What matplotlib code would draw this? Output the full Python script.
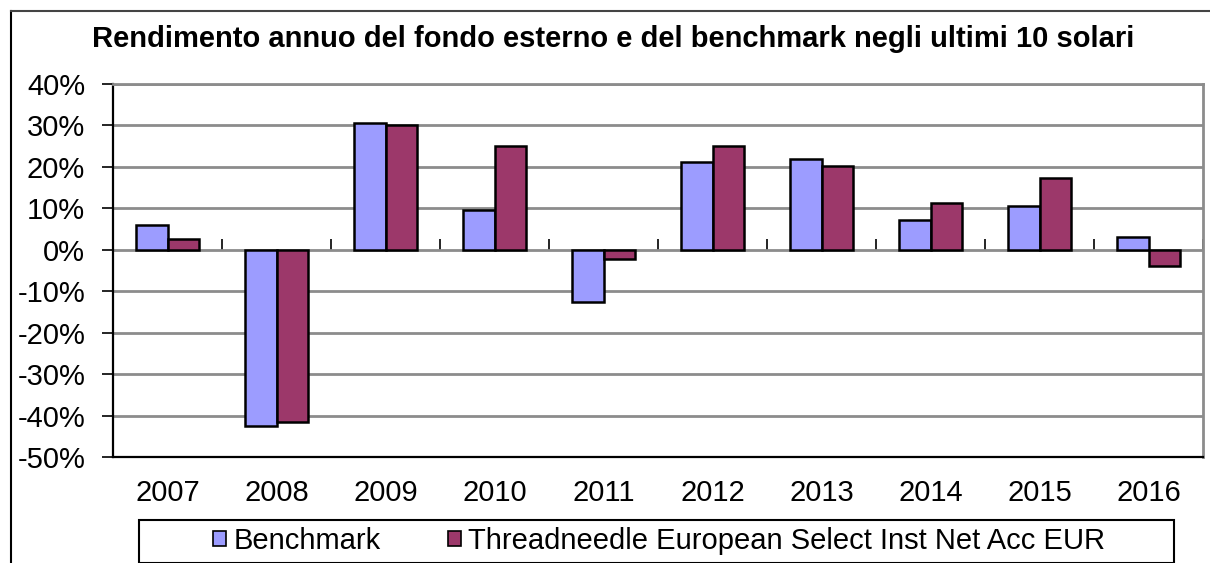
import matplotlib
matplotlib.use("Agg")
import matplotlib.pyplot as plt
from matplotlib.lines import Line2D
from matplotlib.patches import Rectangle, Patch
import numpy as np

plt.rcParams['font.family'] = ['Liberation Sans', 'DejaVu Sans']

# annual returns, percent
years = ["2007", "2008", "2009", "2010", "2011", "2012", "2013", "2014", "2015", "2016"]
benchmark = [6.0, -42.4, 30.6, 9.7, -12.6, 21.3, 22.0, 7.2, 10.6, 3.2]
fund = [2.6, -41.5, 30.2, 25.0, -2.2, 25.0, 20.1, 11.3, 17.3, -4.0]
series_names = ["Benchmark", "Threadneedle European Select Inst Net Acc EUR"]
series_colors = ["#9c9cff", "#9c386a"]
title = "Rendimento annuo del fondo esterno e del benchmark negli ultimi 10 solari"

fig = plt.figure(figsize=(12.1, 5.63), dpi=100)
ax = fig.add_axes([113 / 1210, 1 - 457 / 563, 1090 / 1210, 373 / 563])

x = np.arange(len(years))
w = 0.29
ax.bar(x - w / 2, benchmark, w, color=series_colors[0], edgecolor="black", linewidth=1.8, zorder=3)
ax.bar(x + w / 2, fund, w, color=series_colors[1], edgecolor="black", linewidth=1.8, zorder=3)

ax.set_xlim(-0.5, len(years) - 0.5)
ax.set_ylim(-50, 40)
yt = np.arange(-50, 41, 10)
ax.set_yticks(yt)
ax.set_yticklabels([f"{v}%" for v in yt])
ax.yaxis.grid(True, color="#8c8c8c", linewidth=2, zorder=0)
ax.tick_params(axis="y", length=8, width=1.2, pad=12, labelsize=21)

# category labels along the bottom edge
ax.set_xticks(x)
ax.set_xticklabels(years)
ax.tick_params(axis="x", length=0, pad=16, labelsize=21)

for side in ("top", "right"):
    ax.spines[side].set_color("#8c8c8c")
    ax.spines[side].set_linewidth(2)
for side in ("left", "bottom"):
    ax.spines[side].set_color("black")
    ax.spines[side].set_linewidth(1.6)

# zero line with category separators
zero_pos = (0 - ax.get_ylim()[0]) / (ax.get_ylim()[1] - ax.get_ylim()[0])
sec = ax.secondary_xaxis(zero_pos)
sec.set_xticks(np.arange(len(years) + 1) - 0.5)
sec.set_xticklabels([])
sec.tick_params(axis="x", direction="out", length=8, width=1.2, color="black")
sec.spines["bottom"].set_color("black")
sec.spines["bottom"].set_linewidth(1.6)
sec.spines["bottom"].set_zorder(4)

fig.text(613 / 1210, 1 - 47 / 563, title, ha="center", va="baseline",
         fontsize=21, fontweight="bold")

# legend box
fig.patches.append(Rectangle((139 / 1210, 0), 1035 / 1210, 1 - 520 / 563,
                             transform=fig.transFigure, fill=False,
                             edgecolor="black", linewidth=1.5))
handles = [Patch(facecolor=c, edgecolor="black", linewidth=1.2) for c in series_colors]
fig.legend(handles, series_names, loc="center", ncol=2,
           bbox_to_anchor=(659 / 1210, 1 - 541 / 563), frameon=False,
           fontsize=21, handlelength=0.45, handleheight=0.45,
           handletextpad=0.25, columnspacing=2.3, borderpad=0)

# outer border, top and left
fig.add_artist(Line2D([11 / 1210, 11 / 1210], [0, 1 - 11 / 563], transform=fig.transFigure,
                      color="black", linewidth=1.5))
fig.add_artist(Line2D([11 / 1210, 1], [1 - 11 / 563, 1 - 11 / 563], transform=fig.transFigure,
                      color="#444444", linewidth=1.5))

fig.savefig("out.png", dpi=100)
